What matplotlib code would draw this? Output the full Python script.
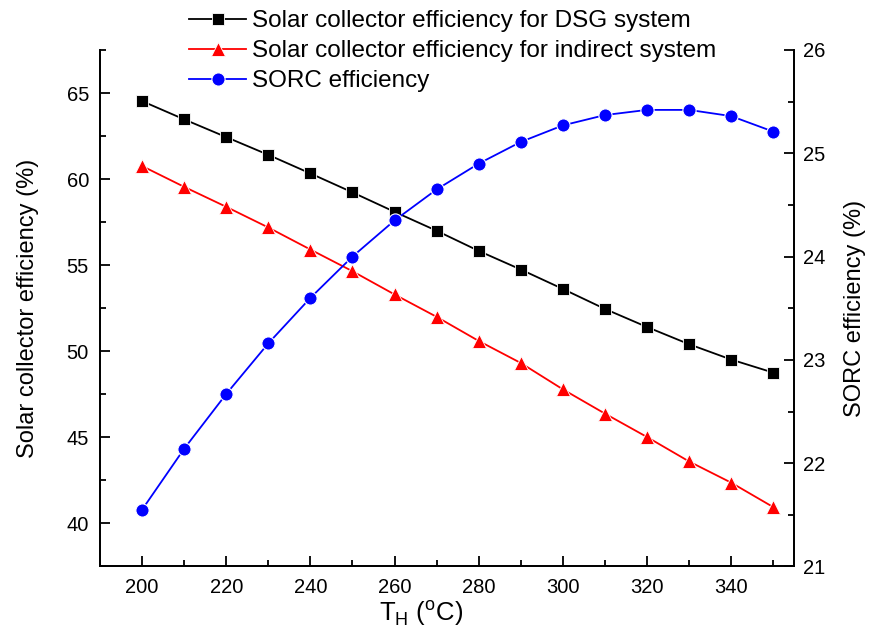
import numpy as np
import matplotlib.pyplot as plt
from matplotlib.ticker import MultipleLocator

plt.rcParams['font.family'] = ['Liberation Sans', 'DejaVu Sans']
plt.rcParams['mathtext.fontset'] = 'custom'
plt.rcParams['mathtext.rm'] = 'Liberation Sans'

# hot-side temperature TH [degC]
th = [200, 210, 220, 230, 240, 250, 260, 270, 280, 290, 300, 310, 320, 330, 340, 350]

# solar collector efficiency [%]
eff_dsg = [64.53, 63.47, 62.44, 61.41, 60.33, 59.23, 58.10, 57.00, 55.83, 54.75,
           53.62, 52.46, 51.41, 50.41, 49.52, 48.76]
eff_indirect = [60.76, 59.55, 58.39, 57.19, 55.91, 54.65, 53.30, 52.00, 50.60, 49.32,
                47.79, 46.38, 45.02, 43.60, 42.37, 40.95]

# SORC efficiency [%] (right axis)
eff_sorc = [21.55, 22.14, 22.67, 23.16, 23.60, 24.00, 24.35, 24.65, 24.90, 25.11,
            25.27, 25.37, 25.42, 25.42, 25.36, 25.21]

labels = ["Solar collector efficiency for DSG system",
          "Solar collector efficiency for indirect system",
          "SORC efficiency"]

fig = plt.figure(figsize=(8.69, 6.36), dpi=100)
ax = fig.add_axes([0.1151, 0.1093, 0.7989, 0.8121])
ax2 = ax.twinx()

l1, = ax.plot(th, eff_dsg, '-s', color='black', lw=1.3, ms=8.5, mec='white', mew=0.6)
l2, = ax.plot(th, eff_indirect, '-^', color='red', lw=1.3, ms=10, mec='white', mew=0.6)
l3, = ax2.plot(th, eff_sorc, '-o', color='blue', lw=1.3, ms=9.5, mec='white', mew=0.8)

ax.set_xlim(190, 355)
ax.set_ylim(37.5, 67.5)
ax2.set_ylim(21, 26)

ax.xaxis.set_major_locator(MultipleLocator(20))
ax.xaxis.set_minor_locator(MultipleLocator(10))
ax.yaxis.set_major_locator(MultipleLocator(5))
ax.yaxis.set_minor_locator(MultipleLocator(2.5))
ax2.yaxis.set_major_locator(MultipleLocator(1))
ax2.yaxis.set_minor_locator(MultipleLocator(0.5))

for a in (ax, ax2):
    a.spines['top'].set_visible(False)
    for s in a.spines.values():
        s.set_linewidth(1.3)
    a.tick_params(which='both', direction='in', labelsize=14.5, width=1.3)
    a.tick_params(which='major', length=7)
    a.tick_params(which='minor', length=4)
ax.tick_params(axis='y', pad=8)
ax.tick_params(axis='x', pad=8)
ax2.tick_params(axis='y', pad=6)

ax.set_xlabel(r'T$_\mathrm{H}$ ($^\mathrm{o}$C)', fontsize=18.5)
ax.set_ylabel('Solar collector efficiency (%)', fontsize=17)
ax2.set_ylabel('SORC efficiency (%)', fontsize=17)
ax.xaxis.set_label_coords(0.4625, -0.062)
ax.yaxis.set_label_coords(-0.088, 0.5)
ax2.yaxis.set_label_coords(1.071, 0.5)

fig.legend([l1, l2, l3], labels, loc='upper left', bbox_to_anchor=(189 / 869, 1 - 10 / 636),
           frameon=False, fontsize=17.5, handlelength=2.35, handletextpad=0.25,
           labelspacing=0.33, borderpad=0, borderaxespad=0)

fig.savefig('out.png', dpi=100)
